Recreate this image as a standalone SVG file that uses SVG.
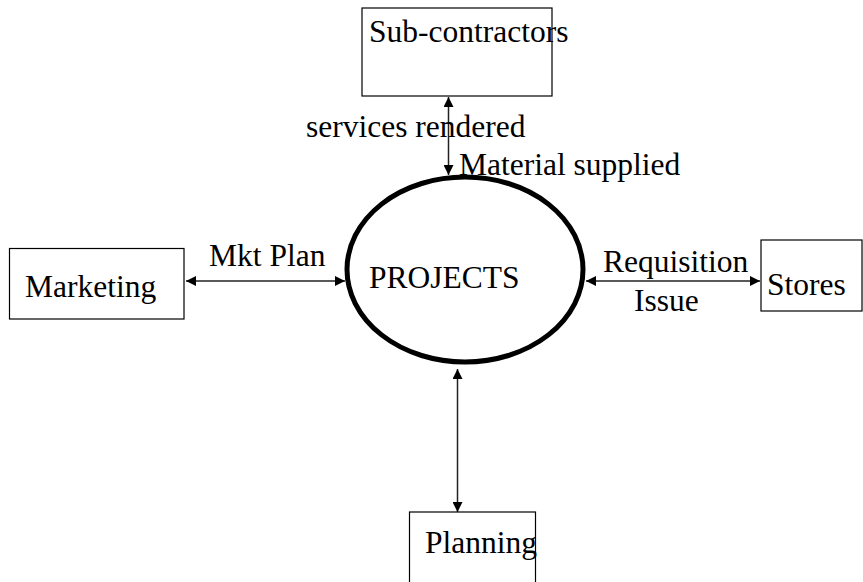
<svg xmlns="http://www.w3.org/2000/svg" width="863" height="582" viewBox="0 0 863 582">
<style>
.box{fill:#fff;stroke:#000;stroke-width:1.2}
.t{font-family:"Liberation Serif","Times New Roman","DejaVu Serif",serif;font-size:31.5px;fill:#000}
.c{stroke:#222;stroke-width:1.5;fill:none;marker-start:url(#ah);marker-end:url(#ah)}
</style>
<defs>
<marker id="ah" viewBox="0 0 10 10" refX="10" refY="5" markerWidth="10" markerHeight="10" markerUnits="userSpaceOnUse" orient="auto-start-reverse">
<path d="M0,0 L10,5 L0,10 Z" fill="#000"/>
</marker>
</defs>
<rect width="863" height="582" fill="#fff"/>
<g id="connectors">
<line class="c" x1="448.5" y1="97" x2="448.5" y2="175"/>
<line class="c" x1="186" y1="281" x2="345" y2="281"/>
<line class="c" x1="586" y1="281" x2="760" y2="281"/>
<line class="c" x1="457.5" y1="369" x2="457.5" y2="512"/>
</g>
<g id="subcontractors">
<rect class="box" x="362" y="8" width="190" height="88"/>
<text class="t" x="369" y="42">Sub-contractors</text>
</g>
<g id="marketing">
<rect class="box" x="9.5" y="248.5" width="174.5" height="70.5"/>
<text class="t" x="25" y="297">Marketing</text>
</g>
<g id="stores">
<rect class="box" x="761" y="240" width="101" height="71"/>
<text class="t" x="767" y="295">Stores</text>
</g>
<g id="planning">
<rect class="box" x="409.5" y="512" width="126" height="75"/>
<text class="t" x="425" y="553">Planning</text>
</g>
<g id="projects">
<ellipse cx="465" cy="269.5" rx="118" ry="92.5" fill="none" stroke="#000" stroke-width="5"/>
<text class="t" x="369" y="288">PROJECTS</text>
</g>
<g id="labels">
<text class="t" x="306" y="137">services rendered</text>
<text class="t" x="459" y="175">Material supplied</text>
<text class="t" x="209" y="266">Mkt Plan</text>
<text class="t" x="603" y="272">Requisition</text>
<text class="t" x="634" y="311">Issue</text>
</g>
</svg>
